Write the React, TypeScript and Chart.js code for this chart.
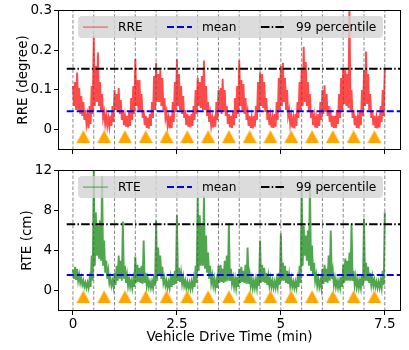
import React, { useEffect, useRef } from "react";
import { Chart, registerables } from "chart.js";

Chart.register(...registerables);

// ---------------- data ----------------
const STEP_MIN = 0.05; // sampling step of the envelope arrays (min)
const timeRange = [-0.36, 7.89];
const timeTicks = [0, 2.5, 5, 7.5];
const lapBoundaries = [0, 0.5, 1, 1.5, 2, 2.5, 3, 3.5, 4, 4.5, 5, 5.5, 6, 6.5, 7, 7.5];
const markerTimes = [0.25, 0.75, 1.25, 1.75, 2.25, 2.75, 3.25, 3.75, 4.25, 4.75, 5.25, 5.75, 6.25, 6.75, 7.25];

const rreRange = [-0.05, 0.3];
const rreTicks = [0, 0.1, 0.2, 0.3];
const rreMean = 0.047;
const rreP99 = 0.153;
const rreMarkerLevel = -0.017;
// upper envelope at t = i*0.05
const rreUpper = [
  0.11, 0.12, 0.144, 0.105, 0.085, 0.07, 0.05, 0.035, 0.06, 0.11,
  0.236, 0.16, 0.194, 0.12, 0.09, 0.045, 0.035, 0.03, 0.035, 0.06,
  0.10, 0.09, 0.105, 0.075, 0.05, 0.035, 0.035, 0.045, 0.08, 0.11,
  0.178, 0.125, 0.125, 0.09, 0.05, 0.035, 0.03, 0.04, 0.07, 0.135,
  0.168, 0.14, 0.15, 0.13, 0.08, 0.045, 0.03, 0.035, 0.07, 0.12,
  0.177, 0.14, 0.11, 0.085, 0.05, 0.04, 0.035, 0.04, 0.06, 0.1,
  0.13, 0.12, 0.135, 0.174, 0.11, 0.07, 0.04, 0.03, 0.035, 0.07,
  0.1, 0.105, 0.128, 0.1, 0.06, 0.04, 0.035, 0.045, 0.08, 0.11,
  0.174, 0.125, 0.115, 0.08, 0.045, 0.035, 0.03, 0.035, 0.06, 0.12,
  0.144, 0.14, 0.12, 0.08, 0.05, 0.035, 0.03, 0.04, 0.07, 0.13,
  0.16, 0.168, 0.13, 0.1, 0.05, 0.035, 0.03, 0.04, 0.07, 0.12,
  0.15, 0.208, 0.17, 0.12, 0.09, 0.05, 0.035, 0.03, 0.04, 0.07,
  0.1, 0.112, 0.09, 0.06, 0.04, 0.035, 0.035, 0.05, 0.09, 0.13,
  0.155, 0.15, 0.14, 0.32, 0.1, 0.05, 0.035, 0.03, 0.05, 0.1,
  0.15, 0.196, 0.14, 0.09, 0.05, 0.035, 0.03, 0.035, 0.06, 0.1,
  0.156,
];
// lower envelope at t = i*0.05 + 0.025
const rreLower = [
  0.06, 0.05, 0.05, 0.04, 0.035, 0.025, 0.015, 0.004, 0.015, 0.04,
  0.06, 0.07, 0.06, 0.045, 0.03, 0.015, 0.01, 0.008, 0.01, 0.02,
  0.05, 0.045, 0.04, 0.025, 0.012, 0.008, 0.006, 0.01, 0.025, 0.04,
  0.06, 0.05, 0.045, 0.03, 0.012, 0.005, 0.003, 0.01, 0.03, 0.05,
  0.07, 0.07, 0.06, 0.05, 0.03, 0.012, 0.004, 0.005, 0.02, 0.045,
  0.06, 0.05, 0.04, 0.03, 0.012, 0.008, 0.006, 0.01, 0.025, 0.04,
  0.06, 0.055, 0.05, 0.05, 0.035, 0.02, 0.01, 0.006, 0.008, 0.025,
  0.045, 0.04, 0.045, 0.035, 0.015, 0.006, 0.005, 0.012, 0.03, 0.04,
  0.06, 0.05, 0.04, 0.025, 0.01, 0.005, 0.004, 0.008, 0.025, 0.045,
  0.06, 0.055, 0.045, 0.025, 0.012, 0.006, 0.005, 0.008, 0.025, 0.05,
  0.06, 0.07, 0.05, 0.035, 0.015, 0.006, 0.004, 0.01, 0.03, 0.045,
  0.06, 0.07, 0.06, 0.045, 0.03, 0.012, 0.006, 0.005, 0.01, 0.025,
  0.04, 0.045, 0.035, 0.02, 0.008, 0.005, 0.005, 0.015, 0.03, 0.05,
  0.065, 0.06, 0.055, 0.05, 0.03, 0.012, 0.005, 0.004, 0.012, 0.035,
  0.06, 0.065, 0.05, 0.03, 0.012, 0.005, 0.004, 0.006, 0.02, 0.035,
];

const rteRange = [-2, 12];
const rteTicks = [0, 4, 8, 12];
const rteMean = 1.57;
const rteP99 = 6.62;
const rteMarkerLevel = -0.6;
const rteUpper = [
  2.1, 2.4, 2.2, 1.6, 1.3, 1.0, 0.8, 0.8, 1.2, 3.5,
  12.0, 7.8, 6.5, 7.0, 11.4, 5.0, 3.0, 2.0, 1.3, 1.0,
  1.8, 2.5, 3.5, 3.0, 6.9, 2.5, 1.6, 1.2, 1.0, 1.2,
  3.4, 2.6, 2.3, 2.5, 5.0, 1.8, 1.2, 0.9, 0.9, 1.5,
  7.0, 4.3, 3.5, 2.4, 1.3, 1.0, 0.9, 1.3, 1.6, 2.0,
  7.5, 2.3, 1.8, 1.4, 1.0, 0.9, 0.8, 0.9, 1.2, 2.5,
  9.3, 7.5, 6.5, 9.4, 5.5, 3.8, 2.5, 1.5, 1.2, 1.0,
  2.5, 2.6, 2.2, 3.0, 3.5, 6.7, 2.2, 1.3, 1.2, 1.4,
  2.2, 2.4, 2.0, 2.6, 4.3, 1.6, 1.2, 1.0, 1.1, 1.6,
  5.0, 2.6, 2.3, 1.8, 1.5, 1.2, 1.0, 0.9, 1.1, 1.8,
  5.7, 2.8, 2.5, 2.0, 1.6, 1.2, 0.9, 0.9, 1.2, 2.5,
  10.2, 6.5, 5.5, 6.0, 11.0, 4.5, 2.8, 1.6, 1.2, 1.0,
  2.2, 2.6, 2.2, 3.5, 6.0, 2.0, 1.3, 1.0, 1.0, 1.4,
  2.6, 3.2, 3.0, 3.8, 6.7, 2.0, 1.4, 1.1, 1.0, 1.6,
  7.2, 2.8, 2.4, 1.8, 1.4, 1.1, 0.9, 0.9, 1.0, 2.0,
  7.8,
];
const rteLower = [
  1.2, 1.1, 1.0, 0.8, 0.6, 0.4, 0.3, 0.3, 0.4, 1.0,
  2.5, 3.5, 3.2, 3.0, 2.5, 1.8, 1.2, 0.8, 0.5, 0.4,
  0.6, 1.0, 1.2, 1.0, 1.2, 0.8, 0.5, 0.4, 0.3, 0.4,
  0.8, 0.9, 0.8, 0.7, 0.8, 0.5, 0.4, 0.3, 0.3, 0.5,
  1.0, 1.5, 1.2, 0.8, 0.5, 0.3, 0.3, 0.4, 0.6, 0.7,
  1.0, 0.9, 0.7, 0.5, 0.3, 0.3, 0.2, 0.3, 0.4, 0.8,
  2.0, 2.5, 2.5, 2.2, 1.8, 1.2, 0.8, 0.5, 0.3, 0.3,
  0.8, 0.9, 0.8, 0.9, 1.0, 1.0, 0.7, 0.4, 0.3, 0.4,
  0.8, 0.9, 0.8, 0.7, 0.7, 0.5, 0.3, 0.3, 0.3, 0.5,
  0.8, 0.9, 0.8, 0.6, 0.5, 0.4, 0.3, 0.3, 0.4, 0.6,
  1.0, 1.0, 0.8, 0.7, 0.5, 0.4, 0.3, 0.3, 0.4, 0.8,
  2.5, 3.5, 3.0, 2.5, 2.0, 1.5, 1.0, 0.5, 0.4, 0.3,
  0.7, 0.9, 0.8, 1.0, 1.2, 0.6, 0.4, 0.3, 0.3, 0.4,
  0.8, 1.0, 1.0, 1.0, 1.0, 0.6, 0.4, 0.3, 0.3, 0.5,
  1.0, 1.0, 0.8, 0.6, 0.5, 0.4, 0.3, 0.3, 0.3, 0.6,
];

// ---------------- helpers ----------------
const FONT = "'DejaVu Sans', sans-serif";
const LINE_START = -0.15;
const LINE_END = 8;

function bandSeries(upper: number[], lower: number[]) {
  const pts: { x: number; y: number }[] = [];
  for (let i = 0; i < upper.length; i++) {
    pts.push({ x: i * STEP_MIN, y: upper[i] });
    if (i < lower.length) pts.push({ x: i * STEP_MIN + STEP_MIN / 2, y: lower[i] });
  }
  return pts;
}

function makeTriangle(): HTMLCanvasElement {
  const c = document.createElement("canvas");
  c.width = 14;
  c.height = 13;
  const g = c.getContext("2d")!;
  g.fillStyle = "#ffa500";
  g.beginPath();
  g.moveTo(7, 0);
  g.lineTo(14, 13);
  g.lineTo(0, 13);
  g.closePath();
  g.fill();
  return c;
}

type LegendItem = { label: string; color: string; dash: number[]; width: number };

const frameLegendPlugin = {
  id: "frameLegend",
  afterDatasetsDraw(chart: any, _args: any, opts: any) {
    const { ctx, chartArea: a } = chart;
    const items: LegendItem[] = opts.items || [];
    ctx.save();
    const bx = a.left + 20;
    const by = a.top + 6;
    const bw = 305;
    const bh = 22;
    ctx.fillStyle = "rgba(211,211,211,0.8)";
    ctx.beginPath();
    if (ctx.roundRect) ctx.roundRect(bx, by, bw, bh, 4);
    else ctx.rect(bx, by, bw, bh);
    ctx.fill();
    const cy = by + bh / 2;
    const sampleX = [5, 89, 183];
    const textX = [40, 124, 218];
    ctx.font = `12.2px ${FONT}`;
    ctx.textBaseline = "middle";
    ctx.textAlign = "left";
    items.forEach((it, i) => {
      ctx.beginPath();
      ctx.setLineDash(it.dash);
      ctx.strokeStyle = it.color;
      ctx.lineWidth = it.width;
      ctx.moveTo(bx + sampleX[i], cy);
      ctx.lineTo(bx + sampleX[i] + 25, cy);
      ctx.stroke();
      ctx.setLineDash([]);
      ctx.fillStyle = "#000";
      ctx.fillText(it.label, bx + textX[i], cy + 0.5);
    });
    ctx.restore();
    ctx.save();
    ctx.strokeStyle = "#000";
    ctx.lineWidth = 1;
    const l = Math.round(a.left), t = Math.round(a.top), r = Math.round(a.right), b = Math.round(a.bottom);
    ctx.strokeRect(l + 0.5, t + 0.5, r - l - 1, b - t - 1);
    ctx.restore();
  },
};

type PanelSpec = {
  upper: number[];
  lower: number[];
  bandColor: string;
  legendColor: string;
  label: string;
  mean: number;
  p99: number;
  markerLevel: number;
  yRange: number[];
  yTicks: number[];
  yTitle: string;
  yTitlePad: number;
  showXLabels: boolean;
  padTop: number;
  xHeight: number;
};

function buildConfig(p: PanelSpec, tri: HTMLCanvasElement): any {
  const vlines: any[] = [];
  lapBoundaries.forEach((b) => {
    vlines.push({ x: b, y: p.yRange[0] }, { x: b, y: p.yRange[1] }, { x: b, y: null });
  });
  const blueDash = [7, 3];
  const dashDot = [8.5, 2.2, 1.5, 2.2];
  return {
    type: "line",
    data: {
      datasets: [
        {
          data: markerTimes.map((t) => ({ x: t, y: p.markerLevel })),
          showLine: false,
          pointStyle: tri,
          pointRadius: 7,
          pointHoverRadius: 7,
        },
        {
          data: [{ x: LINE_START, y: p.p99 }, { x: LINE_END, y: p.p99 }],
          borderColor: "#000000",
          borderWidth: 2,
          borderDash: dashDot,
          pointRadius: 0,
        },
        {
          data: [{ x: LINE_START, y: p.mean }, { x: LINE_END, y: p.mean }],
          borderColor: "#0000ff",
          borderWidth: 2,
          borderDash: blueDash,
          pointRadius: 0,
        },
        {
          data: vlines,
          borderColor: "rgba(80,80,80,0.85)",
          borderWidth: 0.8,
          borderDash: [3.5, 2],
          pointRadius: 0,
          spanGaps: false,
        },
        {
          data: bandSeries(p.upper, p.lower),
          borderColor: p.bandColor,
          borderWidth: 1.9,
          pointRadius: 0,
          tension: 0,
        },
      ],
    },
    options: {
      animation: false,
      responsive: false,
      events: [],
      layout: { padding: { top: p.padTop, right: 6, left: 0, bottom: 0 } },
      plugins: {
        legend: { display: false },
        tooltip: { enabled: false },
        frameLegend: {
          items: [
            { label: p.label, color: p.legendColor, dash: [], width: 1.5 },
            { label: "mean", color: "#0000ff", dash: blueDash, width: 2 },
            { label: "99 percentile", color: "#000000", dash: dashDot, width: 2 },
          ],
        },
      },
      scales: {
        x: {
          type: "linear",
          min: timeRange[0],
          max: timeRange[1],
          afterBuildTicks: (s: any) => {
            s.ticks = timeTicks.map((v) => ({ value: v }));
          },
          afterFit: (s: any) => {
            s.height = p.xHeight;
          },
          border: { display: false },
          grid: { drawOnChartArea: false, drawTicks: true, tickLength: 4, tickColor: "#000", tickWidth: 1 },
          ticks: {
            display: p.showXLabels,
            autoSkip: false,
            maxRotation: 0,
            padding: 1,
            color: "#000",
            font: { family: FONT, size: 13.5 },
            callback: (v: any) => String(v),
          },
          title: {
            display: p.showXLabels,
            text: "Vehicle Drive Time (min)",
            color: "#000",
            font: { family: FONT, size: 13.5 },
            padding: { top: 0, bottom: 4.6 },
          },
        },
        y: {
          type: "linear",
          min: p.yRange[0],
          max: p.yRange[1],
          afterBuildTicks: (s: any) => {
            s.ticks = p.yTicks.map((v) => ({ value: v }));
          },
          afterFit: (s: any) => {
            s.width = 58;
          },
          border: { display: false },
          grid: { drawOnChartArea: false, drawTicks: true, tickLength: 4, tickColor: "#000", tickWidth: 1 },
          ticks: {
            autoSkip: false,
            padding: 2,
            color: "#000",
            font: { family: FONT, size: 13.5 },
            callback: (v: any) => String(v),
          },
          title: {
            display: true,
            text: p.yTitle,
            color: "#000",
            font: { family: FONT, size: 13.5 },
            padding: { top: p.yTitlePad, bottom: 0 },
          },
        },
      },
    },
    plugins: [frameLegendPlugin],
  };
}

export default function App() {
  const topRef = useRef<HTMLCanvasElement | null>(null);
  const botRef = useRef<HTMLCanvasElement | null>(null);

  useEffect(() => {
    const tri = makeTriangle();
    const top = new Chart(
      topRef.current!,
      buildConfig(
        {
          upper: rreUpper,
          lower: rreLower,
          bandColor: "#ff4a4a",
          legendColor: "rgba(255,0,0,0.45)",
          label: "RRE",
          mean: rreMean,
          p99: rreP99,
          markerLevel: rreMarkerLevel,
          yRange: rreRange,
          yTicks: rreTicks,
          yTitle: "RRE (degree)",
          yTitlePad: 15.2,
          showXLabels: false,
          padTop: 6,
          xHeight: 7,
        },
        tri
      )
    );
    const bot = new Chart(
      botRef.current!,
      buildConfig(
        {
          upper: rteUpper,
          lower: rteLower,
          bandColor: "#4fa64f",
          legendColor: "rgba(0,128,0,0.45)",
          label: "RTE",
          mean: rteMean,
          p99: rteP99,
          markerLevel: rteMarkerLevel,
          yRange: rteRange,
          yTicks: rteTicks,
          yTitle: "RTE (cm)",
          yTitlePad: 18.9,
          showXLabels: true,
          padTop: 5,
          xHeight: 39,
        },
        tri
      )
    );
    return () => {
      top.destroy();
      bot.destroy();
    };
  }, []);

  return (
    <div style={{ position: "absolute", left: 0, top: 0, width: 409, height: 350, background: "#fff" }}>
      <canvas ref={topRef} width={409} height={160} style={{ position: "absolute", left: 0, top: 0 }} />
      <canvas ref={botRef} width={409} height={190} style={{ position: "absolute", left: 0, top: 160 }} />
    </div>
  );
}
